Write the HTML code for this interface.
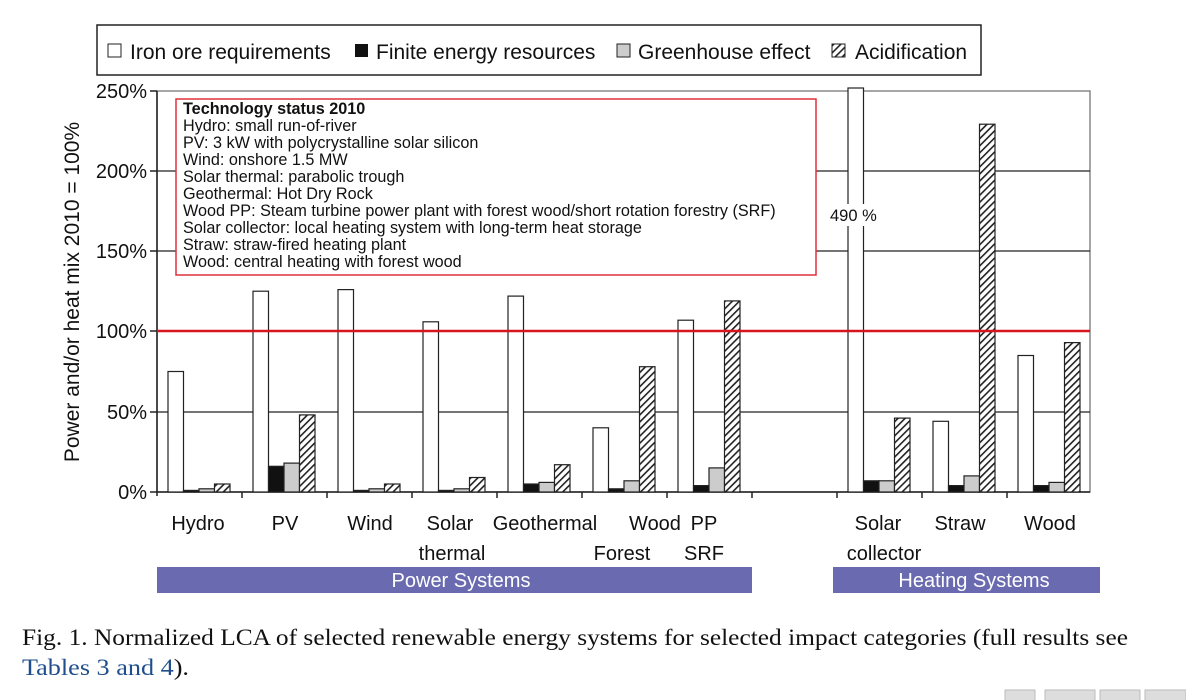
<!DOCTYPE html>
<html><head><meta charset="utf-8"><style>
body{margin:0;background:#fff;width:1186px;height:700px;overflow:hidden}
svg{display:block}
</style></head><body>
<svg width="1186" height="700" xmlns="http://www.w3.org/2000/svg" font-family="Liberation Sans, sans-serif">
<defs>
<pattern id="h" width="5" height="5" patternUnits="userSpaceOnUse" patternTransform="rotate(45)">
<rect width="5" height="5" fill="#fff"/><rect width="1.6" height="5" fill="#222"/>
</pattern>
</defs>
<rect x="97" y="25" width="884" height="50" fill="#fff" stroke="#222" stroke-width="1.5"/>
<g font-size="21" fill="#111">
<rect x="108" y="44" width="13" height="13" fill="#fff" stroke="#222"/>
<text x="130" y="59">Iron ore requirements</text>
<rect x="355" y="44" width="13" height="13" fill="#111"/>
<text x="376" y="59">Finite energy resources</text>
<rect x="617" y="44" width="13" height="13" fill="#ccc" stroke="#222"/>
<text x="638" y="59">Greenhouse effect</text>
<rect x="832" y="44" width="13" height="13" fill="url(#h)" stroke="#222"/>
<text x="855" y="59">Acidification</text>
</g>
<rect x="157" y="91" width="933" height="401" fill="#fff" stroke="#888" stroke-width="1.5"/>
<g stroke="#222" stroke-width="1.3">
<line x1="157" y1="171" x2="1090" y2="171"/>
<line x1="157" y1="251" x2="1090" y2="251"/>
<line x1="157" y1="412" x2="1090" y2="412"/>
</g>
<g stroke="#222" stroke-width="1.5">
<line x1="157" y1="91" x2="157" y2="496"/>
<line x1="150" y1="91" x2="157" y2="91"/><line x1="150" y1="171" x2="157" y2="171"/>
<line x1="150" y1="251" x2="157" y2="251"/><line x1="150" y1="331" x2="157" y2="331"/>
<line x1="150" y1="412" x2="157" y2="412"/><line x1="150" y1="492" x2="157" y2="492"/>
<line x1="157" y1="492" x2="1090" y2="492"/>
<line x1="242" y1="492" x2="242" y2="498"/><line x1="327" y1="492" x2="327" y2="498"/>
<line x1="412" y1="492" x2="412" y2="498"/><line x1="497" y1="492" x2="497" y2="498"/>
<line x1="582" y1="492" x2="582" y2="498"/><line x1="667" y1="492" x2="667" y2="498"/>
<line x1="752" y1="492" x2="752" y2="498"/><line x1="837" y1="492" x2="837" y2="498"/>
<line x1="922" y1="492" x2="922" y2="498"/><line x1="1007" y1="492" x2="1007" y2="498"/>
</g>
<g font-size="20" fill="#111" text-anchor="end">
<text x="147" y="98">250%</text><text x="147" y="178">200%</text><text x="147" y="258">150%</text>
<text x="147" y="338">100%</text><text x="147" y="419">50%</text><text x="147" y="499">0%</text>
</g>
<text transform="translate(79,292) rotate(-90)" font-size="21" text-anchor="middle" fill="#111">Power and/or heat mix 2010 = 100%</text>
<g stroke="#222" stroke-width="1.2">
<rect x="168" y="371.5" width="15.5" height="120.5" fill="#fff"/>
<rect x="183.5" y="490.4" width="15.5" height="1.6" fill="#111"/>
<rect x="199" y="488.8" width="15.5" height="3.2" fill="#ccc"/>
<rect x="214.5" y="484" width="15.5" height="8" fill="url(#h)"/>
<rect x="253" y="291.2" width="15.5" height="200.8" fill="#fff"/>
<rect x="268.5" y="466.3" width="15.5" height="25.7" fill="#111"/>
<rect x="284" y="463.1" width="15.5" height="28.9" fill="#ccc"/>
<rect x="299.5" y="414.9" width="15.5" height="77.1" fill="url(#h)"/>
<rect x="338" y="289.6" width="15.5" height="202.4" fill="#fff"/>
<rect x="353.5" y="490.4" width="15.5" height="1.6" fill="#111"/>
<rect x="369" y="488.8" width="15.5" height="3.2" fill="#ccc"/>
<rect x="384.5" y="484" width="15.5" height="8" fill="url(#h)"/>
<rect x="423" y="321.8" width="15.5" height="170.2" fill="#fff"/>
<rect x="438.5" y="490.4" width="15.5" height="1.6" fill="#111"/>
<rect x="454" y="488.8" width="15.5" height="3.2" fill="#ccc"/>
<rect x="469.5" y="477.5" width="15.5" height="14.5" fill="url(#h)"/>
<rect x="508" y="296.1" width="15.5" height="195.9" fill="#fff"/>
<rect x="523.5" y="484" width="15.5" height="8" fill="#111"/>
<rect x="539" y="482.4" width="15.5" height="9.6" fill="#ccc"/>
<rect x="554.5" y="464.7" width="15.5" height="27.3" fill="url(#h)"/>
<rect x="593" y="427.8" width="15.5" height="64.2" fill="#fff"/>
<rect x="608.5" y="488.8" width="15.5" height="3.2" fill="#111"/>
<rect x="624" y="480.8" width="15.5" height="11.2" fill="#ccc"/>
<rect x="639.5" y="366.7" width="15.5" height="125.3" fill="url(#h)"/>
<rect x="678" y="320.2" width="15.5" height="171.8" fill="#fff"/>
<rect x="693.5" y="485.6" width="15.5" height="6.4" fill="#111"/>
<rect x="709" y="467.9" width="15.5" height="24.1" fill="#ccc"/>
<rect x="724.5" y="300.9" width="15.5" height="191.1" fill="url(#h)"/>
<rect x="848" y="88" width="15.5" height="404" fill="#fff"/>
<rect x="863.5" y="480.8" width="15.5" height="11.2" fill="#111"/>
<rect x="879" y="480.8" width="15.5" height="11.2" fill="#ccc"/>
<rect x="894.5" y="418.1" width="15.5" height="73.9" fill="url(#h)"/>
<rect x="933" y="421.3" width="15.5" height="70.7" fill="#fff"/>
<rect x="948.5" y="485.6" width="15.5" height="6.4" fill="#111"/>
<rect x="964" y="475.9" width="15.5" height="16.1" fill="#ccc"/>
<rect x="979.5" y="124.2" width="15.5" height="367.8" fill="url(#h)"/>
<rect x="1018" y="355.5" width="15.5" height="136.5" fill="#fff"/>
<rect x="1033.5" y="485.6" width="15.5" height="6.4" fill="#111"/>
<rect x="1049" y="482.4" width="15.5" height="9.6" fill="#ccc"/>
<rect x="1064.5" y="342.6" width="15.5" height="149.4" fill="url(#h)"/>
</g>
<line x1="157" y1="331" x2="1090" y2="331" stroke="#d8141e" stroke-width="2.5"/>
<rect x="176" y="99" width="640" height="176" fill="#fff" stroke="#e0303a" stroke-width="1.5"/>
<g font-size="16.2" fill="#111">
<text x="183" y="114" font-weight="bold">Technology status 2010</text>
<text x="183" y="131">Hydro: small run-of-river</text>
<text x="183" y="148">PV: 3 kW with polycrystalline solar silicon</text>
<text x="183" y="165">Wind: onshore 1.5 MW</text>
<text x="183" y="182">Solar thermal: parabolic trough</text>
<text x="183" y="199">Geothermal: Hot Dry Rock</text>
<text x="183" y="216">Wood PP: Steam turbine power plant with forest wood/short rotation forestry (SRF)</text>
<text x="183" y="233">Solar collector: local heating system with long-term heat storage</text>
<text x="183" y="250">Straw: straw-fired heating plant</text>
<text x="183" y="267">Wood: central heating with forest wood</text>
</g>
<rect x="828" y="204" width="58" height="22" fill="#fff"/>
<text x="830" y="221" font-size="16.5" fill="#111">490 %</text>
<g font-size="20" fill="#111" text-anchor="middle">
<text x="198" y="530">Hydro</text><text x="285" y="530">PV</text><text x="370" y="530">Wind</text>
<text x="450" y="530">Solar</text><text x="452" y="560">thermal</text>
<text x="545" y="530">Geothermal</text>
<text x="655" y="530">Wood</text><text x="622" y="560">Forest</text>
<text x="704" y="530">PP</text><text x="704" y="560">SRF</text>
<text x="878" y="530">Solar</text><text x="884" y="560">collector</text>
<text x="960" y="530">Straw</text><text x="1050" y="530">Wood</text>
</g>
<rect x="157" y="567" width="595" height="26" fill="#6a6ab0"/>
<rect x="833" y="567" width="267" height="26" fill="#6a6ab0"/>
<g font-size="20" fill="#fff" text-anchor="middle">
<text x="461" y="587">Power Systems</text><text x="974" y="587">Heating Systems</text>
</g>
<g font-family="Liberation Serif, serif" font-size="23" fill="#111">
<text x="22" y="645" textLength="1106" lengthAdjust="spacingAndGlyphs">Fig. 1. Normalized LCA of selected renewable energy systems for selected impact categories (full results see</text>
<text x="22" y="675" textLength="167" lengthAdjust="spacingAndGlyphs"><tspan fill="#1f4e8c">Tables 3 and 4</tspan>).</text>
</g>
<g fill="#ddd" stroke="#bbb">
<rect x="1005" y="690" width="30" height="14"/><rect x="1045" y="690" width="50" height="14"/>
<rect x="1100" y="690" width="40" height="14"/><rect x="1145" y="690" width="41" height="14"/>
</g>
</svg>
</body></html>
